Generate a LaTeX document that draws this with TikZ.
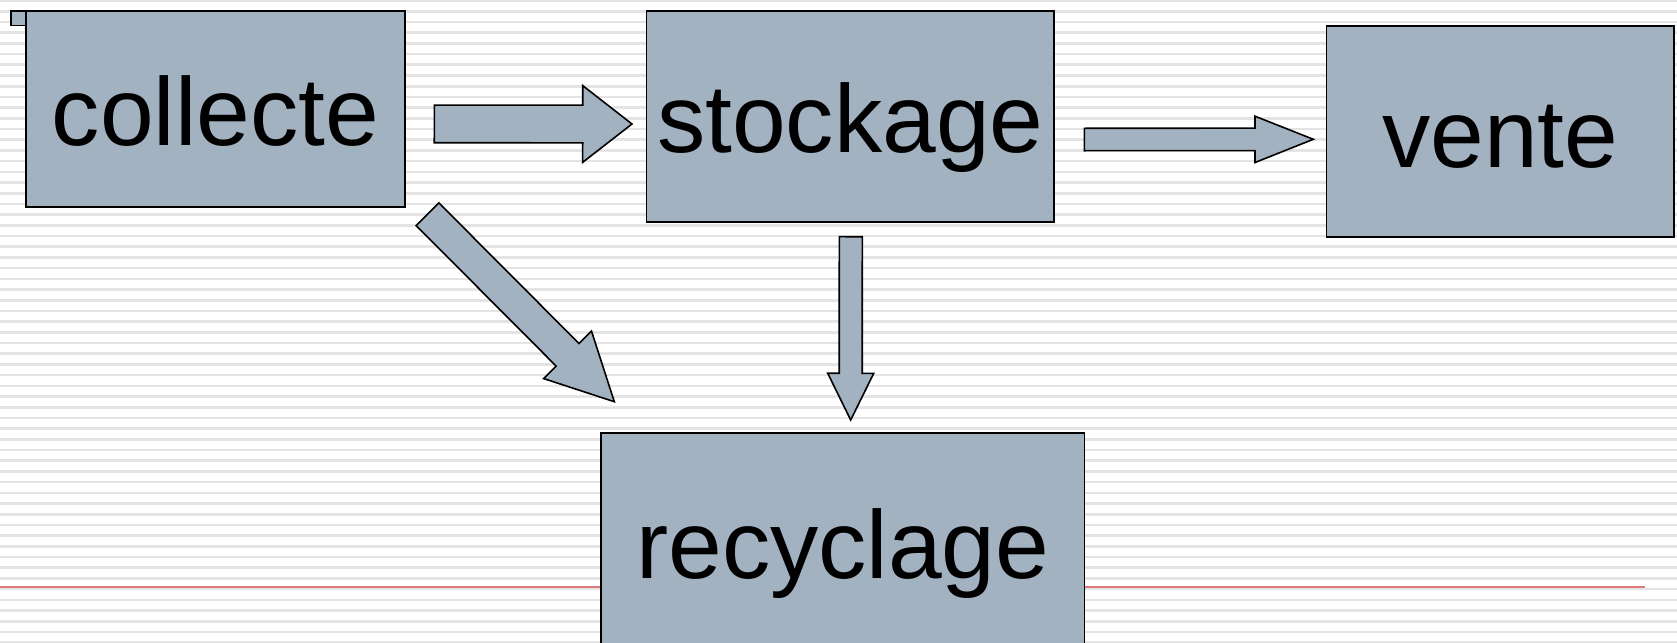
\documentclass[tikz,border=0pt]{standalone}
\usepackage{fontspec}
\setmainfont{Liberation Sans}
\usetikzlibrary{calc}
\definecolor{boxfill}{RGB}{163,178,193}
\definecolor{stripecol}{RGB}{228,228,228}
\definecolor{redlinecol}{RGB}{224,122,122}
% #1 start, #2 tip, #3 shaft half width, #4 head half width, #5 head length, #6 name
\newcommand\myblockarrow[6]{%
  \coordinate (#6b) at ($(#2)!#5!(#1)$);
  \draw[arrowbody] ($(#1)!#3!90:(#2)$) -- ($(#6b)!#3!90:(#2)$) -- ($(#6b)!#4!90:(#2)$) -- (#2)
     -- ($(#6b)!#4!-90:(#2)$) -- ($(#6b)!#3!-90:(#2)$) -- ($(#1)!#3!-90:(#2)$) -- cycle;
}
\begin{document}
\begin{tikzpicture}[x=1pt,y=-1pt,
  box/.style={draw=black, line width=1.6pt, fill=boxfill, inner sep=0pt,
    text height=72pt, text depth=0pt, font=\fontsize{96.5}{100}\selectfont},
  arrowbody/.style={draw=black, line width=1.6pt, fill=boxfill, line join=miter},
  stripeline/.style={stripecol, line width=2.6pt},
  rule/.style={redlinecol, line width=2pt}]
\useasboundingbox (0,0) rectangle (1677,642);
\fill[white] (0,0) rectangle (1677,642);
\foreach \k in {0,...,60} {
  \draw[stripeline] (0,{0.6+10.7*\k}) -- (1677,{0.6+10.7*\k});
}
\coordinate (rl1) at (0,586.7);
\coordinate (rl2) at (1645,586.7);
\draw[rule] (rl1) -- (rl2);

\node[draw=black, line width=1.6pt, fill=boxfill, inner sep=0pt, minimum width=15pt, minimum height=14.7pt] (corner) at (18.5,18.3) {};

\node[box, minimum width=379pt, minimum height=196pt] (collecte) at (215.5,109) {collecte};
\node[box, minimum width=407.5pt, minimum height=211.3pt] (stockage) at (850.25,116.4) {stockage};
\node[box, minimum width=347.5pt, minimum height=211pt] (vente) at (1500.25,131.5) {vente};
\node[box, minimum width=483.5pt, minimum height=219pt] (recyclage) at (842.75,542.5) {recyclage};

\coordinate (a1s) at (434.3,123.9);
\coordinate (a1t) at (632,124);
\coordinate (a2s) at (1084.3,139.5);
\coordinate (a2t) at (1313.3,139.3);
\coordinate (a3s) at (850.8,236.7);
\coordinate (a3t) at (850.7,420);
\coordinate (a4s) at (427.5,214.2);
\coordinate (a4t) at (614.3,401.7);

\myblockarrow{a1s}{a1t}{18.85pt}{38.35pt}{49.3pt}{a1}
\myblockarrow{a2s}{a2t}{11.2pt}{23.15pt}{58.3pt}{a2}
\myblockarrow{a3s}{a3t}{11.5pt}{23pt}{46.7pt}{a3}
\myblockarrow{a4s}{a4t}{16.05pt}{33.7pt}{66.2pt}{a4}
\end{tikzpicture}
\end{document}
